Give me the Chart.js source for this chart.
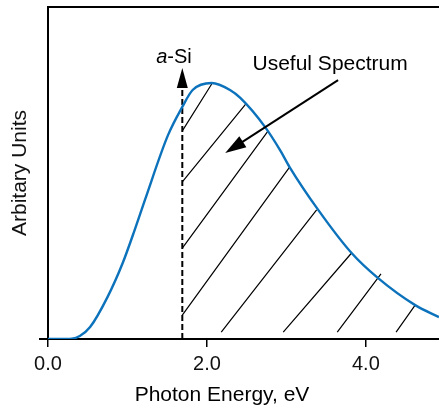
<!DOCTYPE html>
<html>
<head>
<meta charset="utf-8">
<script src="https://cdn.jsdelivr.net/npm/chart.js@4.4.1/dist/chart.umd.min.js"></script>
<style>
  html, body { margin: 0; padding: 0; background: #ffffff; }
  #wrap { width: 439px; height: 410px; }
</style>
</head>
<body>
<div id="wrap"><canvas id="spectrum" width="439" height="410"></canvas></div>
<script>
// Solar photon spectrum (arbitrary units) against photon energy in eV
const energy = [0, 0.15, 0.30, 0.40, 0.53, 0.75, 0.94, 1.09, 1.22, 1.51, 1.69, 1.82,
                2.06, 2.29, 2.42, 2.73, 2.92, 3.04, 3.40, 3.82, 4.15, 4.62, 4.92];
const intensity = [0, 0, 0.1, 0.9, 3.6, 12.7, 22.9, 32.8, 41.9, 61.4, 69.9, 75.0,
                   77.1, 75.0, 72.6, 63.9, 56.9, 51.8, 38.9, 25.9, 18.4, 10.2, 6.6];

// x-axis tick values and their labels
const xTickValues = [0, 2, 4];
const xTickLabels = ['0.0', '2.0', '4.0'];

// a-Si band gap (eV) and the top of its marker
const aSiGap = 1.69;
const aSiMarkerTop = 75.9;
const aSiArrowTip = 81.6;

// hatching of the usable part of the spectrum: start and end of each stroke
const hatchStartE = [1.69, 1.69, 1.69, 1.69, 2.18, 2.96, 3.64, 4.38];
const hatchStartI = [62.7, 47.3, 27.4, 7.2, 2.1, 2.1, 2.1, 2.1];
const hatchEndE   = [2.06, 2.49, 2.77, 3.04, 3.38, 3.82, 4.19, 4.62];
const hatchEndI   = [76.8, 70.8, 62.7, 51.8, 38.9, 25.9, 19.6, 10.2];

// "Useful Spectrum" pointer (tail -> tip), in axis units
const usefulTail = { x: 3.65, y: 78.0 };
const usefulTip  = { x: 2.23, y: 56.0 };
const usefulText = { x: 3.55, y: 81.0 };
const aSiText    = { x: 1.585, y: 83.1 };

const FONT = "'Liberation Sans', Arial, Helvetica, sans-serif";
Chart.defaults.font.family = FONT;
Chart.defaults.color = '#111';

const spectrumPoints = energy.map((e, i) => ({ x: e, y: intensity[i] }));

const hatchPoints = [];
hatchStartE.forEach((e, i) => {
  hatchPoints.push({ x: e, y: hatchStartI[i] });
  hatchPoints.push({ x: hatchEndE[i], y: hatchEndI[i] });
  hatchPoints.push({ x: hatchEndE[i], y: null });
});

function arrowHead(ctx, fromX, fromY, tipX, tipY, len, half) {
  const a = Math.atan2(tipY - fromY, tipX - fromX);
  const bx = tipX - len * Math.cos(a), by = tipY - len * Math.sin(a);
  ctx.beginPath();
  ctx.moveTo(tipX, tipY);
  ctx.lineTo(bx + half * Math.sin(a), by - half * Math.cos(a));
  ctx.lineTo(bx - half * Math.sin(a), by + half * Math.cos(a));
  ctx.closePath();
  ctx.fill();
}

const annotations = {
  id: 'annotations',
  afterDatasetsDraw(chart) {
    const { ctx } = chart;
    const xs = chart.scales.x, ys = chart.scales.y;
    ctx.save();
    ctx.fillStyle = '#000';
    ctx.strokeStyle = '#000';

    // arrowhead on the band-gap marker
    const gx = xs.getPixelForValue(aSiGap);
    arrowHead(ctx, gx, ys.getPixelForValue(aSiMarkerTop), gx, ys.getPixelForValue(aSiArrowTip), 20, 5.5);

    // a-Si label with an italic "a"
    ctx.textBaseline = 'alphabetic';
    ctx.textAlign = 'left';
    const italic = 'italic 20px ' + FONT, upright = '20px ' + FONT;
    ctx.font = italic;
    const wa = ctx.measureText('a').width;
    ctx.font = upright;
    const wr = ctx.measureText('-Si').width;
    const lx = xs.getPixelForValue(aSiText.x) - (wa + wr) / 2;
    const ly = ys.getPixelForValue(aSiText.y);
    ctx.font = italic;
    ctx.fillText('a', lx, ly);
    ctx.font = upright;
    ctx.fillText('-Si', lx + wa, ly);

    // "Useful Spectrum" and its pointer
    ctx.textAlign = 'center';
    ctx.font = '21px ' + FONT;
    ctx.fillText('Useful Spectrum', xs.getPixelForValue(usefulText.x), ys.getPixelForValue(usefulText.y));
    const tx = xs.getPixelForValue(usefulTail.x), ty = ys.getPixelForValue(usefulTail.y);
    const px = xs.getPixelForValue(usefulTip.x), py = ys.getPixelForValue(usefulTip.y);
    const ang = Math.atan2(py - ty, px - tx);
    ctx.lineWidth = 2;
    ctx.beginPath();
    ctx.moveTo(tx, ty);
    ctx.lineTo(px - 15 * Math.cos(ang), py - 15 * Math.sin(ang));
    ctx.stroke();
    arrowHead(ctx, tx, ty, px, py, 21, 6.5);

    // x-axis title
    ctx.font = '21px ' + FONT;
    ctx.fillText('Photon Energy, eV', 222, 401);
    ctx.restore();
  }
};

new Chart(document.getElementById('spectrum'), {
  type: 'line',
  data: {
    datasets: [
      {
        label: 'Spectrum',
        data: spectrumPoints,
        borderColor: '#0b72bb',
        borderWidth: 2.4,
        pointRadius: 0,
        cubicInterpolationMode: 'monotone',
        fill: false,
        order: 0
      },
      {
        label: 'Hatch',
        data: hatchPoints,
        borderColor: '#000',
        borderWidth: 1.2,
        pointRadius: 0,
        spanGaps: false,
        tension: 0,
        fill: false,
        order: 1
      },
      {
        label: 'a-Si gap',
        data: [{ x: aSiGap, y: 0 }, { x: aSiGap, y: aSiMarkerTop }],
        borderColor: '#000',
        borderWidth: 2,
        borderDash: [6, 3],
        pointRadius: 0,
        tension: 0,
        fill: false,
        order: 2
      }
    ]
  },
  options: {
    responsive: false,
    animation: false,
    events: [],
    layout: { padding: { top: 7, right: 0, bottom: 0, left: 0 } },
    plugins: { legend: { display: false }, tooltip: { enabled: false } },
    scales: {
      x: {
        type: 'linear',
        position: 'bottom',
        min: 0,
        max: 4.92,
        afterBuildTicks: (axis) => { axis.ticks = xTickValues.map(v => ({ value: v })); },
        afterFit: (axis) => { axis.height = 71; },
        border: { display: true, color: '#000', width: 2 },
        grid: { display: true, drawOnChartArea: false, drawTicks: true, tickLength: 8, color: '#000', lineWidth: 1.5 },
        ticks: {
          font: { size: 20 },
          color: '#111',
          padding: 5,
          maxRotation: 0,
          callback: (v) => xTickLabels[xTickValues.indexOf(v)]
        }
      },
      xTop: {
        type: 'linear',
        position: 'top',
        min: 0,
        max: 1,
        afterFit: (axis) => { axis.height = 0; },
        border: { display: true, color: '#000', width: 2 },
        grid: { display: false, drawTicks: false },
        ticks: { display: false }
      },
      y: {
        type: 'linear',
        position: 'left',
        min: 0,
        max: 100,
        afterBuildTicks: (axis) => { axis.ticks = [{ value: 0 }]; },
        afterFit: (axis) => { axis.width = 48; },
        border: { display: true, color: '#000', width: 2 },
        grid: { display: true, drawOnChartArea: false, drawTicks: true, tickLength: 9, color: '#000', lineWidth: 2 },
        ticks: { display: false },
        title: {
          display: true,
          text: 'Arbitary Units',
          font: { size: 21 },
          color: '#111',
          padding: { top: 8, bottom: 0 }
        }
      }
    }
  },
  plugins: [annotations]
});
</script>
</body>
</html>
